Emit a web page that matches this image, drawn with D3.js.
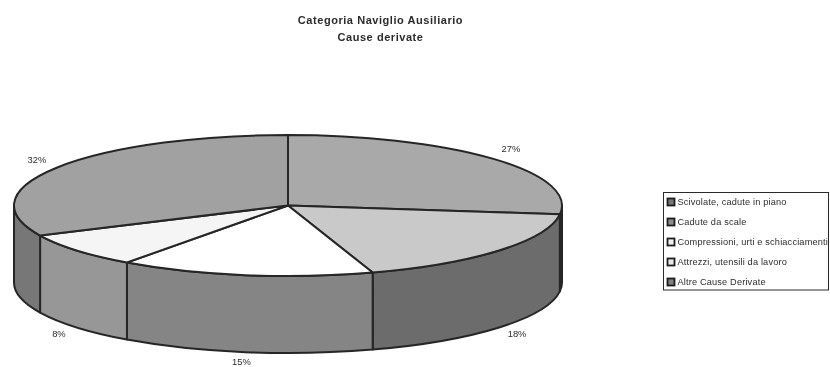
<!DOCTYPE html>
<html>
<head>
<meta charset="utf-8">
<script src="https://cdn.jsdelivr.net/npm/d3@7"></script>
<style>
html,body{margin:0;padding:0;background:#fff}
svg{display:block}
text{font-family:"Liberation Sans",Arial,sans-serif;fill:#2c2c2c}
</style>
</head>
<body>
<svg id="chart" width="830" height="367"></svg>
<script>
const titleLines = ["Categoria Naviglio Ausiliario", "Cause derivate"];
const categories = ["Scivolate, cadute in piano", "Cadute da scale", "Compressioni, urti e schiacciamenti", "Attrezzi, utensili da lavoro", "Altre Cause Derivate"];
const values = [27, 18, 15, 8, 32];
const topColors = ["#a9a9a9", "#c9c9c9", "#ffffff", "#f5f5f5", "#a1a1a1"];
const sideColors = ["#6f6f6f", "#6c6c6c", "#858585", "#979797", "#777777"];
const swatchColors = ["#777777", "#8a8a8a", "#f0f0f0", "#e8e8e8", "#808080"];

const cx = 288, cy = 205.5, rx = 274, ry = 70.5, depth = 77;
const svg = d3.select("#chart");
const defs = svg.append("defs");
defs.append("filter").attr("id", "scan").attr("x", "-2%").attr("y", "-2%").attr("width", "104%").attr("height", "104%")
  .append("feGaussianBlur").attr("stdDeviation", 0.5);
const root = svg.append("g").attr("filter", "url(#scan)");

const slices = d3.pie().sort(null).value(d => d)(values);
// Projection of the pie plane: unit circle -> flattened ellipse
const px = d3.scaleLinear().domain([-1, 1]).range([cx - rx, cx + rx]);
const py = d3.scaleLinear().domain([-1, 1]).range([cy + ry, cy - ry]);
const X = a => px(Math.sin(a));
const Y = a => py(Math.cos(a));
const HALF = Math.PI / 2, LOW = 3 * Math.PI / 2;

function topPath(s) {
  const large = s.endAngle - s.startAngle > Math.PI ? 1 : 0;
  return `M${cx},${cy}L${X(s.startAngle)},${Y(s.startAngle)}A${rx},${ry} 0 ${large} 1 ${X(s.endAngle)},${Y(s.endAngle)}Z`;
}
function sidePath(s) {
  const a0 = Math.max(s.startAngle, HALF), a1 = Math.min(s.endAngle, LOW);
  if (a1 <= a0) return null;
  return `M${X(a0)},${Y(a0)}A${rx},${ry} 0 0 1 ${X(a1)},${Y(a1)}L${X(a1)},${Y(a1) + depth}A${rx},${ry} 0 0 0 ${X(a0)},${Y(a0) + depth}Z`;
}

root.append("g").selectAll("path")
  .data(slices.filter(sidePath))
  .join("path")
  .attr("d", sidePath)
  .attr("fill", d => sideColors[d.index])
  .attr("stroke", "#262626").attr("stroke-width", 2).attr("stroke-linejoin", "round");

root.append("g").selectAll("path")
  .data(slices)
  .join("path")
  .attr("d", topPath)
  .attr("fill", d => topColors[d.index])
  .attr("stroke", "#262626").attr("stroke-width", 2).attr("stroke-linejoin", "round");

// Percentage labels
root.append("g").selectAll("text")
  .data(slices)
  .join("text")
  .attr("font-size", 9.4)
  .attr("text-anchor", "middle")
  .attr("x", d => cx + 1.085 * rx * Math.sin((d.startAngle + d.endAngle) / 2))
  .attr("y", d => {
    const c = Math.cos((d.startAngle + d.endAngle) / 2);
    return c > 0 ? cy - 1.23 * ry * c + 3.5 : cy - 1.12 * ry * c + depth + 4.5;
  })
  .text(d => d.value + "%");

// Title
root.append("g").selectAll("text")
  .data(titleLines)
  .join("text")
  .attr("x", 380.5)
  .attr("y", (d, i) => 24 + i * 17)
  .attr("text-anchor", "middle")
  .attr("font-weight", "bold")
  .attr("font-size", 11)
  .attr("letter-spacing", 0.55)
  .text(d => d);

// Legend
const legendY = d3.scalePoint().domain(categories).range([202, 282]);
root.append("rect").attr("x", 663.5).attr("y", 192.5).attr("width", 165).attr("height", 97.5)
  .attr("fill", "#fff").attr("stroke", "#2c2c2c").attr("stroke-width", 1);
const item = root.append("g").selectAll("g").data(categories).join("g")
  .attr("transform", d => `translate(0,${legendY(d)})`);
item.append("rect")
  .attr("x", 667.5).attr("y", -3.5).attr("width", 7).attr("height", 7)
  .attr("fill", (d, i) => swatchColors[i])
  .attr("stroke", "#1c1c1c").attr("stroke-width", 1.8);
item.append("text")
  .attr("x", 677.5).attr("y", 3)
  .attr("font-size", 9.2)
  .attr("letter-spacing", 0.17)
  .text(d => d);
</script>
</body>
</html>
